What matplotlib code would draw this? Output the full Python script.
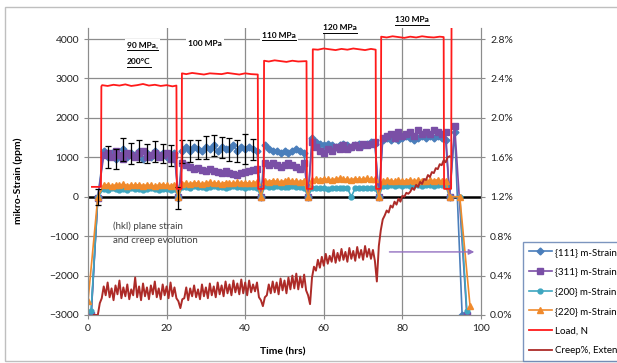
import numpy as np
import matplotlib
matplotlib.use('Agg')
import matplotlib.pyplot as plt
from matplotlib.lines import Line2D
from matplotlib.patches import Rectangle

plt.rcParams['font.family'] = ['Lato', 'DejaVu Sans']

nan = np.nan

# time base of the lattice strain readings (hrs)
t_strain = [0, 0.8, 2.5,
            4, 5, 6, 7, 8, 9, 10, 11, 12, 13, 14, 15, 16, 17, 18, 19, 20, 21, 22,
            23,
            24, 25, 26, 27, 28, 29, 30, 31, 32, 33, 34, 35, 36, 37, 38, 39, 40, 41, 42, 43,
            44,
            45, 46, 47, 48, 49, 50, 51, 52, 53, 54, 55,
            56,
            57, 58, 59, 60, 61, 62, 63, 64, 65, 66, 67, 68, 69, 70, 71, 72, 73,
            74,
            75, 76, 77, 78, 79, 80, 81, 82, 83, 84, 85, 86, 87, 88, 89, 90, 91,
            92, 93.3, 94.6, 95.2, 96.4, 97.2]

strain_111 = [nan, -3000, 0,
              1150, 1000, 1100, 950, 1050, 1200, 1000, 1100, 1050, 1150, 950, 1100, 1000, 1150, 1050, 1100, 1000, 1050, 1100,
              -30,
              1150, 1250, 1150, 1250, 1200, 1150, 1250, 1200, 1300, 1150, 1250, 1200, 1200, 1300, 1150, 1250, 1200, 1250, 1200, 1150,
              0,
              1300, 1200, 1150, 1150, 1100, 1150, 1100, 1150, 1200, 1150, 1100,
              0,
              1500, 1400, 1350, 1300, 1350, 1300, 1250, 1300, 1350, 1300, 1250, 1300, 1350, 1300, 1350, 1400, 1350,
              0,
              1450, 1500, 1450, 1500, 1450, 1500, 1550, 1500, 1450, 1500, 1550, 1500, 1550, 1500, 1550, 1500, 1450,
              0, 1650, nan, -3000, nan, nan]

strain_311 = [nan, -3000, -30,
              1050, 1100, 1000, 1150, 1050, 950, 1100, 1050, 1000, 1100, 1150, 1000, 1050, 1100, 1000, 1050, 1100, 950, 1050,
              0,
              850, 800, 750, 700, 720, 680, 650, 700, 650, 620, 600, 650, 600, 580, 560, 600, 620, 650, 680, 700,
              0,
              850, 800, 850, 800, 750, 800, 850, 800, 750, 700, 850,
              0,
              1400, 1250, 1150, 1100, 1200, 1150, 1250, 1200, 1300, 1200, 1250, 1300, 1250, 1350, 1300, 1350, 1400,
              0,
              1500, 1550, 1600, 1500, 1650, 1550, 1600, 1650, 1550, 1700, 1600, 1650, 1600, 1700, 1650, 1600, 1650,
              0, 1800, nan, nan, -3000, nan]

strain_200 = [nan, -2900, 0,
              200, 180, 210, 190, 170, 200, 180, 210, 190, 200, 180, 190, 210, 200, 180, 190, 200, 180, 190,
              0,
              240, 250, 230, 260, 240, 250, 230, 240, 260, 250, 240, 230, 250, 260, 240, 250, 230, 240, 250, 230,
              0,
              260, 250, 240, 260, 250, 240, 250, 260, 240, 250, 230,
              0,
              220, 210, 230, 220, 200, 210, 220, 230, 210, 220, 0, 220, 210, 230, 220, 210, 220,
              0,
              280, 270, 290, 280, 300, 270, 290, 280, 300, 290, 280, 300, 290, 280, 290, 300, 280,
              0, nan, 0, nan, -2900, nan]

strain_220 = [-2650, nan, 0,
              290, 310, 270, 300, 290, 320, 280, 300, 290, 310, 280, 300, 290, 270, 300, 310, 290, 280, 300,
              0,
              330, 350, 320, 360, 340, 330, 350, 370, 340, 350, 330, 360, 350, 340, 370, 350, 360, 340, 350, 380,
              0,
              400, 380, 410, 390, 380, 400, 420, 390, 400, 380, 410,
              0,
              420, 450, 430, 460, 440, 430, 450, 470, 440, 450, 430, 460, 440, 450, 470, 440, 450,
              0,
              400, 420, 410, 390, 420, 400, 410, 430, 400, 420, 410, 400, 420, 410, 430, 400, 410,
              0, nan, 0, nan, nan, -2760]

# error bars on the {111} readings
err_t = [2.5, 5, 7, 9, 11, 13, 15, 17, 19, 21, 23, 24, 26, 28, 30, 32, 34, 36, 38, 40, 42]
err_111 = [200, 280, 250, 300, 260, 280, 240, 270, 250, 260, 280, 300, 280, 250, 300, 270, 260, 300, 280, 380, 260]

# applied load (N)
load_t = [1.0, 3.3, 3.4, 3.6, 5, 6.5, 8, 9.5, 11, 12.5, 14, 15.5, 17, 18.5, 20, 21.5, 22.5,
          22.6, 23.8,
          23.9, 25, 26.5, 28, 29.5, 31, 32.5, 34, 35.5, 37, 38.5, 40, 41.5, 43.2,
          43.3, 44.7,
          44.8, 46, 47.5, 49, 50.5, 52, 53.5, 55.6,
          55.7, 57.1,
          57.2, 58.5, 60, 61.5, 63, 64.5, 66, 67.5, 69, 70.5, 72, 73.2,
          73.3, 74.5,
          74.6, 76, 77.5, 79, 80.5, 82, 83.5, 85, 86.5, 88, 89.5, 90.5,
          90.6, 92.4, 92.5]
load_n = [250, 250, 2800, 2830, 2810, 2840, 2820, 2850, 2810, 2830, 2860, 2820, 2840, 2810, 2830, 2800, 2820,
          200, 200,
          3130, 3110, 3140, 3120, 3100, 3130, 3120, 3110, 3140, 3120, 3100, 3130, 3110, 3100,
          200, 200,
          3450, 3430, 3460, 3440, 3420, 3450, 3430, 3440,
          200, 200,
          3740, 3730, 3760, 3740, 3720, 3750, 3730, 3760, 3740, 3720, 3750, 3730,
          200, 200,
          4060, 4040, 4070, 4050, 4030, 4060, 4040, 4070, 4050, 4040, 4060, 4050,
          200, 200, 4300]

# creep strain from extensometer (%), one reading every 0.5 hrs from 1.5 hrs
creep_pct = [0.0, 0.0, 0.0,
             0.12,
             0.17, 0.29, 0.20, 0.33, 0.18, 0.27, 0.15, 0.30, 0.21, 0.35, 0.17, 0.28, 0.19, 0.31, 0.16, 0.26,
             0.20, 0.38, 0.18, 0.29, 0.15, 0.32, 0.19, 0.28, 0.16, 0.30, 0.21, 0.34, 0.18, 0.27, 0.16, 0.31,
             0.20, 0.29, 0.17, 0.33, 0.19, 0.28, 0.17,
             0.14, 0.07, 0.16,
             0.17, 0.28, 0.15, 0.27, 0.19, 0.30, 0.18, 0.26, 0.16, 0.31, 0.19, 0.28, 0.17, 0.32, 0.20, 0.29,
             0.18, 0.33, 0.21, 0.30, 0.19, 0.34, 0.22, 0.31, 0.20, 0.35, 0.23, 0.32, 0.21, 0.36, 0.22, 0.33,
             0.20, 0.35, 0.23, 0.31, 0.24, 0.33, 0.18,
             0.15, 0.09, 0.18,
             0.20, 0.31, 0.22, 0.34, 0.23, 0.33, 0.21, 0.37, 0.25, 0.35, 0.22, 0.38, 0.26, 0.40, 0.27, 0.42,
             0.26, 0.39, 0.28, 0.41, 0.25, 0.20,
             0.11,
             0.38, 0.49, 0.45, 0.56, 0.48, 0.59, 0.50, 0.62, 0.52, 0.60, 0.54, 0.66, 0.53, 0.63, 0.55, 0.67,
             0.56, 0.64, 0.54, 0.68, 0.57, 0.65, 0.55, 0.69, 0.58, 0.66, 0.56, 0.70, 0.59, 0.67, 0.57, 0.66,
             0.55,
             0.34,
             0.70, 0.86, 0.97, 1.01, 1.06, 1.04, 1.11, 1.09, 1.15, 1.12, 1.18, 1.15, 1.21, 1.20, 1.24, 1.23,
             1.25, 1.29, 1.27, 1.32, 1.30, 1.35, 1.33, 1.38, 1.37, 1.42, 1.40, 1.45, 1.44, 1.49, 1.48, 1.53,
             1.52, 1.57, 1.55, 1.60, 1.61]
creep_t = 1.5 + 0.5 * np.arange(len(creep_pct))

labels = ['{111} m-Strain', '{311} m-Strain', '{200} m-Strain', '{220} m-Strain',
          'Load, N', 'Creep%, Extensometer']
stress_labels = ['90 MPa,', '100 MPa', '110 MPa', '120 MPa', '130 MPa']

fig = plt.figure(figsize=(6.17, 3.63), dpi=100)
ax = fig.add_axes([88 / 617, 48 / 363, 393 / 617, 287 / 363])
ymax = 4280
ax.set_xlim(0, 100)
ax.set_ylim(-3000, ymax)

grid_c = '#8c8c8c'
for v in [20, 40, 60, 80]:
    ax.axvline(v, color=grid_c, lw=0.9, zorder=0)
for v in [-2000, -1000, 1000, 2000, 3000, 4000]:
    ax.axhline(v, color=grid_c, lw=0.9, zorder=0)
ax.axhline(0, color='black', lw=1.8, zorder=1)

t = np.array(t_strain, dtype=float)
series = [(strain_111, '#4a7ebb', 'D', 3.5),
          (strain_311, '#7a4fa6', 's', 4.5),
          (strain_200, '#3ea6c0', 'o', 3.5),
          (strain_220, '#f08a2c', '^', 4)]
for vals, col, mk, ms in series:
    y = np.array(vals, dtype=float)
    ok = np.isfinite(y)
    ax.plot(t[ok], y[ok], color=col, marker=mk, ms=ms, lw=1.2, zorder=3)

y111 = dict(zip(t_strain, strain_111))
ax.errorbar(err_t, [y111[v] for v in err_t], yerr=err_111, fmt='none',
            ecolor='black', elinewidth=0.9, capsize=2, capthick=0.9, zorder=4)

ax.plot(load_t, load_n, color='#ff1a1a', lw=1.3, zorder=5)

ax.set_xticks(range(0, 101, 20))
ax.set_yticks(range(-3000, 4001, 1000))
ax.tick_params(labelsize=7.5, length=3, color=grid_c, labelcolor='#222222')
for s in ['left', 'bottom', 'right']:
    ax.spines[s].set_color(grid_c)
ax.spines['top'].set_visible(False)

ax.text(6.4, -915, '(hkl) plane strain\nand creep evolution', fontsize=7,
        color='#404040', va='center', ha='left', linespacing=1.7, zorder=6)
ax.annotate('', xy=(99, -1400), xytext=(76, -1400),
            arrowprops=dict(arrowstyle='-|>', color='#9370c0', lw=1, mutation_scale=8), zorder=6)

ax2 = ax.twinx()
ax2.set_ylim(0, (ymax + 3000) * 0.4 / 1000)
ax2.plot(creep_t, creep_pct, color='#ad2b28', lw=1.4)
ax2.set_yticks(np.arange(0, 2.81, 0.4))
ax2.set_yticklabels([f'{v:.1f}%' for v in np.arange(0, 2.81, 0.4)])
ax2.tick_params(labelsize=7.5, length=3, color=grid_c, labelcolor='#222222')
for s in ['left', 'bottom', 'right']:
    ax2.spines[s].set_color(grid_c)
ax2.spines['top'].set_visible(False)

fig.text(283 / 617, 1 - 352 / 363, 'Time (hrs)', fontsize=7.5, fontweight='bold',
         ha='center', va='center')
fig.text(18 / 617, 1 - 181 / 363, 'mikro-Strain (ppm)', fontsize=7.5, fontweight='bold',
         ha='center', va='center', rotation=90)

# stress level labels above the load steps
label_pos = [(127, 45), (188, 43), (262, 35), (323, 28), (395, 20)]
underlined = [True, False, True, True, True]
box = dict(facecolor='white', edgecolor='none', pad=1.5)
texts = []
for lab, (px, py), ul in zip(stress_labels, label_pos, underlined):
    texts.append((fig.text(px / 617, 1 - py / 363, lab, fontsize=6, fontweight='bold',
                           ha='left', va='center', bbox=box, zorder=10), ul))
texts.append((fig.text(127 / 617, 1 - 62 / 363, '200°C', fontsize=6, fontweight='bold',
                       ha='left', va='center', bbox=box, zorder=10), True))

fig.canvas.draw()
for txt, ul in texts:
    if not ul:
        continue
    bb = txt.get_window_extent()
    yline = (bb.y0 - 1) / fig.bbox.height
    fig.add_artist(Line2D([bb.x0 / fig.bbox.width, bb.x1 / fig.bbox.width], [yline, yline],
                          transform=fig.transFigure, color='black', lw=0.7, zorder=11))

handles = [Line2D([], [], color=c, marker=m, ms=ms, lw=1.2) for _, c, m, ms in series]
handles.append(Line2D([], [], color='#ff1a1a', lw=1.3))
handles.append(Line2D([], [], color='#ad2b28', lw=1.3))
leg = fig.legend(handles, labels, loc='upper left', bbox_to_anchor=(518 / 617, 1 - 237 / 363),
                 fontsize=7, frameon=True, fancybox=False, handlelength=2.4,
                 labelspacing=1.1, borderpad=0.6, handletextpad=0.3)
leg.get_frame().set_edgecolor('#5b7bae')
leg.get_frame().set_linewidth(1)

fig.add_artist(Rectangle((5 / 617, 2 / 363), 2, 354 / 363, transform=fig.transFigure,
                         fill=False, edgecolor='#bfbfbf', lw=1))

fig.savefig('out.png', dpi=100)
